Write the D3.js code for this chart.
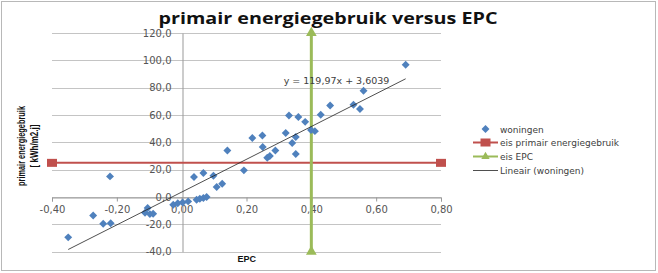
<!DOCTYPE html>
<html>
<head>
<meta charset="utf-8">
<script src="https://cdn.jsdelivr.net/npm/d3@7"></script>
<style>
  body { margin: 0; background: #fff; }
  svg { display: block; }
</style>
</head>
<body>
<div class="vis-chart"></div>
<script>
// data
const epc = [-0.35, -0.273, -0.242, -0.219, -0.221, -0.105, -0.113, -0.098, -0.088,
    -0.026, -0.012, 0.003, 0.02, 0.046, 0.056, 0.067, 0.077,
    0.038, 0.067, 0.098, 0.108, 0.125, 0.141, 0.192,
    0.218, 0.249, 0.25, 0.264, 0.272, 0.289, 0.321, 0.331, 0.36, 0.381,
    0.352, 0.341, 0.352, 0.399, 0.411, 0.429, 0.458, 0.53, 0.55, 0.561, 0.691]
const primair = [-29.5, -13.5, -19.5, -19.2, 15.1, -8, -11.5, -12.5, -12.2,
    -5.6, -4.6, -4.0, -3.2, -2.0, -1.3, -0.7, 0.0,
    14.6, 17.6, 15.6, 7.3, 9.7, 34.1, 19.5,
    43.2, 45, 36.6, 28.7, 30, 34, 46.8, 59.7, 58.5, 55,
    43.9, 39.5, 31.5, 49, 48.2, 60.2, 67, 67.5, 64.4, 77.8, 96.8]
const eisPrimair = 25
const eisEpc = 0.4
const trendSlope = 119.97
const trendIntercept = 3.6039
const xTicks = [-0.4, -0.2, 0, 0.2, 0.4, 0.6, 0.8]
const yTicks = [-40, -20, 0, 20, 40, 60, 80, 100, 120]
const legendLabels = ['woningen', 'eis primair energiegebruik', 'eis EPC', 'Lineair (woningen)']

const width = 658, height = 273
const blue = '#4F81BD', red = '#C0504D', green = '#9BBB59'

const svg = d3.select('.vis-chart').append('svg')
    .attr('width', width)
    .attr('height', height)

// outer frame
svg.append('rect')
    .attr('x', 1.5).attr('y', 1.5)
    .attr('width', width - 4).attr('height', height - 4)
    .attr('fill', '#fff')
    .attr('stroke', '#b8b8b8')

const xScale = d3.scaleLinear().domain([-0.4, 0.8]).range([52, 441])
const yScale = d3.scaleLinear().domain([-40, 120]).range([251.7, 33])

const fmtX = d => d.toFixed(2).replace('.', ',')
const fmtY = d => d.toFixed(1).replace('.', ',')

/* gridlines */
svg.append('g')
    .selectAll('line')
    .data(yTicks)
    .join('line')
    .attr('x1', xScale(-0.4)).attr('x2', xScale(0.8))
    .attr('y1', d => Math.round(yScale(d)) + 0.5)
    .attr('y2', d => Math.round(yScale(d)) + 0.5)
    .attr('stroke', '#c4c4c4')

/* axes */
const x0 = Math.round(xScale(0)) + 0.5
const y0 = Math.round(yScale(0)) + 0.5

const xAxis = d3.axisBottom(xScale).tickValues(xTicks).tickFormat(fmtX).tickSize(4).tickPadding(4)
const gx = svg.append('g')
    .attr('transform', 'translate(0,' + y0 + ')')
    .call(xAxis)
gx.select('.domain').attr('stroke', '#999')
gx.selectAll('.tick line').attr('stroke', '#999')
gx.selectAll('text')
    .attr('fill', '#555')
    .style('font-family', 'DejaVu Sans')
    .style('font-size', '10px')

const yAxis = d3.axisLeft(yScale).tickValues(yTicks).tickFormat(fmtY).tickSize(0).tickPadding(11)
const gy = svg.append('g')
    .attr('transform', 'translate(' + x0 + ',0)')
    .call(yAxis)
gy.select('.domain').attr('stroke', '#999')
gy.selectAll('text')
    .attr('fill', '#555')
    .style('font-family', 'DejaVu Sans')
    .style('font-size', '10px')

/* requirement lines */
svg.append('line')
    .attr('x1', xScale(-0.4)).attr('x2', xScale(0.8))
    .attr('y1', yScale(eisPrimair)).attr('y2', yScale(eisPrimair))
    .attr('stroke', red).attr('stroke-width', 2)
svg.selectAll('.sq')
    .data([-0.4, 0.8])
    .join('rect')
    .attr('class', 'sq')
    .attr('x', d => xScale(d) - 5).attr('y', yScale(eisPrimair) - 4)
    .attr('width', 10).attr('height', 8)
    .attr('fill', red)

svg.append('line')
    .attr('x1', xScale(eisEpc)).attr('x2', xScale(eisEpc))
    .attr('y1', yScale(-40)).attr('y2', yScale(120))
    .attr('stroke', green).attr('stroke-width', 3)
const tri = d3.symbol().type(d3.symbolTriangle).size(50)
svg.selectAll('.tri')
    .data([-40, 120])
    .join('path')
    .attr('class', 'tri')
    .attr('d', tri)
    .attr('transform', d => 'translate(' + xScale(eisEpc) + ',' + yScale(d) + ')')
    .attr('fill', green)

/* woningen */
const diamond = d3.symbol().type(d3.symbolDiamond2).size(40)
svg.append('g')
    .selectAll('path')
    .data(epc.map((e, i) => ({ x: e, y: primair[i] })))
    .join('path')
    .attr('d', diamond)
    .attr('transform', d => 'translate(' + xScale(d.x) + ',' + yScale(d.y) + ')')
    .attr('fill', blue)

/* trendline */
const tx = d3.extent(epc)
svg.append('line')
    .attr('x1', xScale(tx[0])).attr('y1', yScale(trendSlope * tx[0] + trendIntercept))
    .attr('x2', xScale(tx[1])).attr('y2', yScale(trendSlope * tx[1] + trendIntercept))
    .attr('stroke', '#222').attr('stroke-width', 0.8)

svg.append('text')
    .attr('x', 336.5).attr('y', 84)
    .attr('text-anchor', 'middle')
    .style('font-family', 'DejaVu Sans')
    .style('font-size', '9.5px')
    .attr('fill', '#404040')
    .text('y = ' + String(trendSlope).replace('.', ',') + 'x + ' + String(trendIntercept).replace('.', ','))

/* titles */
svg.append('text')
    .attr('x', 328).attr('y', 24)
    .attr('text-anchor', 'middle')
    .attr('textLength', 339).attr('lengthAdjust', 'spacingAndGlyphs')
    .style('font-family', 'Open Sans')
    .style('font-weight', 'bold')
    .style('font-size', '15.5px')
    .attr('fill', '#111')
    .text('primair energiegebruik versus EPC')

svg.append('text')
    .attr('x', 246.7).attr('y', 262)
    .attr('text-anchor', 'middle')
    .style('font-family', 'Liberation Sans')
    .style('font-weight', 'bold')
    .style('font-size', '9px')
    .attr('fill', '#111')
    .text('EPC')

svg.append('text')
    .attr('transform', 'translate(25,146)rotate(-90)')
    .attr('text-anchor', 'middle')
    .attr('textLength', 80).attr('lengthAdjust', 'spacingAndGlyphs')
    .style('font-family', 'Liberation Sans Narrow, Liberation Sans')
    .style('font-weight', 'bold')
    .style('font-size', '10.5px')
    .attr('fill', '#111')
    .text('primair energiegebruik')

svg.append('text')
    .attr('transform', 'translate(38,146)rotate(-90)')
    .attr('text-anchor', 'middle')
    .attr('textLength', 43).attr('lengthAdjust', 'spacingAndGlyphs')
    .style('font-family', 'Liberation Sans Narrow, Liberation Sans')
    .style('font-weight', 'bold')
    .style('font-size', '10.5px')
    .attr('fill', '#111')
    .text('[ kWh/m2.j]')

/* legend */
const legendY = [129, 142.5, 156.5, 170.5]
const legend = svg.append('g')
legend.selectAll('text')
    .data(legendLabels)
    .join('text')
    .attr('x', 500)
    .attr('y', (d, i) => legendY[i] + 3.5)
    .style('font-family', 'DejaVu Sans')
    .style('font-size', '9px')
    .attr('fill', '#404040')
    .text(d => d)

legend.append('path')
    .attr('d', diamond)
    .attr('transform', 'translate(485.5,' + legendY[0] + ')')
    .attr('fill', blue)

legend.append('line')
    .attr('x1', 473).attr('x2', 498)
    .attr('y1', legendY[1]).attr('y2', legendY[1])
    .attr('stroke', red).attr('stroke-width', 2)
legend.append('rect')
    .attr('x', 480.5).attr('y', legendY[1] - 4)
    .attr('width', 10).attr('height', 8)
    .attr('fill', red)

legend.append('line')
    .attr('x1', 473).attr('x2', 498)
    .attr('y1', legendY[2]).attr('y2', legendY[2])
    .attr('stroke', green).attr('stroke-width', 2)
legend.append('path')
    .attr('d', d3.symbol().type(d3.symbolTriangle).size(30))
    .attr('transform', 'translate(485.5,' + legendY[2] + ')')
    .attr('fill', green)

legend.append('line')
    .attr('x1', 473).attr('x2', 498)
    .attr('y1', legendY[3]).attr('y2', legendY[3])
    .attr('stroke', '#222').attr('stroke-width', 0.8)
</script>
</body>
</html>
